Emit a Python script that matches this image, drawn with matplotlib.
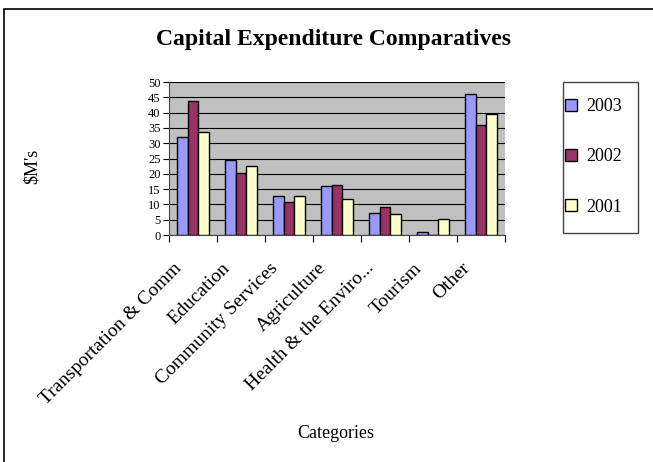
import matplotlib.pyplot as plt
import matplotlib.transforms as mtransforms
import numpy as np
from matplotlib.patches import Rectangle

# Data
categories = ["Transportation & Comm", "Education", "Community Services", "Agriculture",
              "Health & the Enviro...", "Tourism", "Other"]
years = ["2003", "2002", "2001"]
vals_2003 = [31.9, 24.5, 12.6, 15.9, 7.3, 1.1, 46.1]
vals_2002 = [43.7, 20.4, 10.7, 16.5, 9.2, 0.0, 35.8]
vals_2001 = [33.5, 22.7, 12.6, 11.9, 6.8, 5.1, 39.7]
colors = ["#9999FF", "#993366", "#FFFFCC"]

plt.rcParams["font.family"] = ["Liberation Serif", "DejaVu Serif"]

fig = plt.figure(figsize=(6.53, 4.62), dpi=100)

# outer chart border
fig.patches.append(Rectangle((4 / 653, -0.05), 1.1, 1 - 9 / 462 + 0.05,
                             transform=fig.transFigure, fill=False,
                             edgecolor="black", linewidth=1.2))

ax = fig.add_axes([169 / 653, 1 - 235 / 462, 336 / 653, 153 / 462])
ax.set_facecolor("#C0C0C0")

x = np.arange(len(categories))
w = 0.22
series = [vals_2003, vals_2002, vals_2001]
handles = []
for i, (vals, c, yr) in enumerate(zip(series, colors, years)):
    b = ax.bar(x + (i - 1) * w, vals, w, color=c, edgecolor="black",
               linewidth=1.0, label=yr, zorder=3)
    handles.append(b)

ax.set_xlim(-0.5, len(categories) - 0.5)
ax.set_ylim(0, 50)
ax.set_yticks(range(0, 51, 5))
ax.yaxis.grid(True, color="black", linewidth=0.8, zorder=1)
ax.tick_params(axis="y", labelsize=9, length=4, width=0.8, pad=2)

ax.set_xticks(x)
ax.set_xticklabels(categories, rotation=45, ha="right", rotation_mode="anchor",
                   fontsize=14)
ax.set_xticks(np.arange(-0.5, len(categories)), minor=True)
ax.tick_params(axis="x", which="major", length=0, pad=12)
ax.tick_params(axis="x", which="minor", length=5, width=0.8)
# nudge the rotated labels left/down like the original
shift = mtransforms.ScaledTranslation(-20 / 100, -8 / 100, fig.dpi_scale_trans)
for lbl in ax.get_xticklabels():
    lbl.set_transform(lbl.get_transform() + shift)

for s in ["top", "right"]:
    ax.spines[s].set_visible(False)
ax.spines["left"].set_color("#444444")
ax.spines["bottom"].set_color("#444444")

fig.text(334 / 653, 1 - 40 / 462, "Capital Expenditure Comparatives",
         ha="center", va="center", fontsize=17, fontweight="bold")
fig.text(32 / 653, 1 - 166 / 462, r"\$M's", rotation=90, ha="center",
         va="center", fontsize=13)
fig.text(336 / 653, 1 - 433 / 462, "Categories", ha="center", va="center",
         fontsize=13)

# legend box drawn separately so its size matches
fig.patches.append(Rectangle((563 / 653, 1 - 233 / 462), 75 / 653, 151 / 462,
                             transform=fig.transFigure, fill=False,
                             edgecolor="#444444", linewidth=1.0))
leg = fig.legend(handles=handles, loc="upper left",
                 bbox_to_anchor=(565 / 653, 1 - 98 / 462), fontsize=13,
                 frameon=False, labelspacing=1.85, handlelength=0.65,
                 handleheight=0.65, handletextpad=0.5, borderpad=0,
                 borderaxespad=0)

fig.savefig("out.png", dpi=100)
